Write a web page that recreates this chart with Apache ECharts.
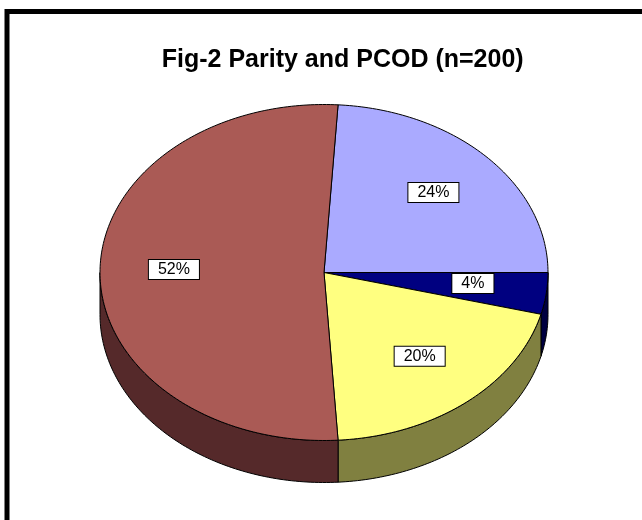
<!DOCTYPE html>
<html><head><meta charset="utf-8">
<script src="https://cdn.jsdelivr.net/npm/echarts@6/dist/echarts.min.js"></script>
<style>html,body{margin:0;padding:0;background:#fff}#c{width:642px;height:520px}</style>
</head><body><div id="c"></div>
<script>
// Data (n = 200), slices in drawing order, clockwise
const categories = ['Parity group 1', 'Parity group 2', 'Parity group 3', 'Parity group 4'];
const counts = [48, 8, 40, 104];

// Styles
const topColors = ['#AAAAFF', '#000080', '#FFFF80', '#AA5A55'];
const sideColors = ['#55557F', '#000040', '#808040', '#55292A'];

const total = counts.reduce((a, b) => a + b, 0);
const START = 3.6;          // degrees clockwise from 12 o'clock
const CX = 324, CY = 272.5, RX = 224, RY = 168, DEPTH = 42, LABEL_R = 0.67, LABEL_DY = -3;

function pt(theta, dy) {
  const r = theta * Math.PI / 180;
  return [CX + RX * Math.sin(r), CY - RY * Math.cos(r) + (dy || 0)];
}
function arc(a, b, dy) {
  const pts = [];
  const n = Math.max(2, Math.ceil(Math.abs(b - a)));
  for (let i = 0; i <= n; i++) pts.push(pt(a + (b - a) * i / n, dy));
  return pts;
}

const chart = echarts.init(document.getElementById('c'), null, { renderer: 'canvas' });
chart.setOption({
  animation: false,
  backgroundColor: '#fff',
  title: {
    text: 'Fig-2 Parity and PCOD (n=200)',
    left: 342.7, top: 48, padding: 0,
    textAlign: 'center',
    textStyle: { fontFamily: 'Liberation Sans, Arial, sans-serif', fontWeight: 'bold', fontSize: 25, color: '#000' }
  },
  graphic: [{
    type: 'rect', silent: true,
    shape: { x: 7, y: 11.5, width: 700, height: 600 },
    style: { fill: 'none', stroke: '#000', lineWidth: 5 }
  }],
  series: [{
    type: 'custom',
    coordinateSystem: 'none',
    data: counts.map((v, i) => ({ name: categories[i], value: v })),
    renderItem: function (params, api) {
      const i = params.dataIndex;
      const v = api.value(0);
      let before = 0;
      for (let k = 0; k < i; k++) before += counts[k];
      const a = START + before / total * 360;
      const b = a + v / total * 360;
      const children = [];
      // front wall (visible where the rim faces the viewer)
      [[90, 270], [450, 630]].forEach(function (rng) {
        const s = Math.max(a, rng[0]), e = Math.min(b, rng[1]);
        if (e > s) {
          const pts = arc(s, e, 0).concat(arc(e, s, DEPTH));
          children.push({
            type: 'polygon', z2: 1,
            shape: { points: pts },
            style: { fill: sideColors[i], stroke: '#000', lineWidth: 1 }
          });
        }
      });
      // top face
      children.push({
        type: 'polygon', z2: 2,
        shape: { points: [[CX, CY]].concat(arc(a, b, 0)) },
        style: { fill: topColors[i], stroke: '#000', lineWidth: 1, lineJoin: 'round' }
      });
      // label
      const mid = (a + b) / 2;
      const r = mid * Math.PI / 180;
      const lx = CX + RX * LABEL_R * Math.sin(r);
      const ly = CY - RY * LABEL_R * Math.cos(r) + LABEL_DY;
      children.push({
        type: 'text', z2: 10,
        style: {
          text: Math.round(v / total * 100) + '%',
          x: lx, y: ly,
          align: 'center', verticalAlign: 'middle',
          font: '16px "Liberation Sans", Arial, sans-serif',
          fill: '#000',
          backgroundColor: '#fff', borderColor: '#000', borderWidth: 1,
          padding: [2, 9, 1, 9]
        }
      });
      return { type: 'group', children: children };
    }
  }]
});
</script>
</body></html>
